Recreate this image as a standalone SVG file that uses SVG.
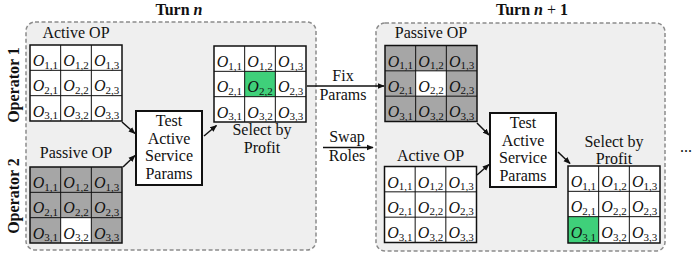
<svg xmlns="http://www.w3.org/2000/svg" width="699" height="256" viewBox="0 0 699 256">
<defs>
<style>
text{font-family:"Liberation Serif","Times New Roman",serif;fill:#111;}
.lb{font-size:16px;text-anchor:middle;}
.tt{font-size:16px;font-weight:bold;text-anchor:middle;}
.c{font-size:16px;text-anchor:middle;}
.o{font-style:italic;}
.s{font-size:11px;}
.turn{fill:#efefef;stroke:#8c8c8c;stroke-width:1.5;stroke-dasharray:4 2.5;}
.bg{fill:#fff;}
.gr{fill:#a6a6a6;}
.gn{fill:#3fd07a;}
.out{fill:none;stroke:#111;stroke-width:1.5;}
.in{stroke:#111;stroke-width:1;}
.box{fill:#fff;stroke:#111;stroke-width:2;}
.ar{stroke:#111;stroke-width:1.5;fill:none;marker-end:url(#ah);}
</style>
<marker id="ah" viewBox="0 0 10 10" refX="9" refY="5" markerWidth="7" markerHeight="7" orient="auto" markerUnits="userSpaceOnUse"><path d="M0,1 L10,5 L0,9 z" fill="#111"/></marker>
</defs>

<g id="turns">
<rect class="turn" x="26" y="22" width="290" height="228" rx="9"/>
<rect class="turn" x="376" y="23" width="289" height="228" rx="9"/>
<text class="tt" x="179" y="15">Turn <tspan font-style="italic">n</tspan></text>
<text class="tt" x="532" y="15">Turn <tspan font-style="italic">n</tspan><tspan font-weight="normal"> + </tspan>1</text>
<text class="tt" transform="translate(19,85) rotate(-90)">Operator 1</text>
<text class="tt" transform="translate(19,196) rotate(-90)">Operator 2</text>
</g>

<g id="grid1" transform="translate(30,45)">
<text class="lb" x="46" y="-7">Active OP</text>
<rect class="bg" width="92" height="76"/>
<path class="in" d="M30.67,0V76M61.33,0V76M0,25.33H92M0,50.67H92"/>
<rect class="out" width="92" height="76"/>
<text class="c" x="15.33" y="21"><tspan class="o">O</tspan><tspan class="s" dy="2.5">1,1</tspan></text>
<text class="c" x="46" y="21"><tspan class="o">O</tspan><tspan class="s" dy="2.5">1,2</tspan></text>
<text class="c" x="76.67" y="21"><tspan class="o">O</tspan><tspan class="s" dy="2.5">1,3</tspan></text>
<text class="c" x="15.33" y="46.3"><tspan class="o">O</tspan><tspan class="s" dy="2.5">2,1</tspan></text>
<text class="c" x="46" y="46.3"><tspan class="o">O</tspan><tspan class="s" dy="2.5">2,2</tspan></text>
<text class="c" x="76.67" y="46.3"><tspan class="o">O</tspan><tspan class="s" dy="2.5">2,3</tspan></text>
<text class="c" x="15.33" y="71.6"><tspan class="o">O</tspan><tspan class="s" dy="2.5">3,1</tspan></text>
<text class="c" x="46" y="71.6"><tspan class="o">O</tspan><tspan class="s" dy="2.5">3,2</tspan></text>
<text class="c" x="76.67" y="71.6"><tspan class="o">O</tspan><tspan class="s" dy="2.5">3,3</tspan></text>
</g>

<g id="grid2" transform="translate(30,167)">
<text class="lb" x="46" y="-9">Passive OP</text>
<rect class="gr" width="92" height="76"/>
<rect class="bg" x="30.67" y="50.67" width="30.67" height="25.33"/>
<path class="in" d="M30.67,0V76M61.33,0V76M0,25.33H92M0,50.67H92"/>
<rect class="out" width="92" height="76"/>
<text class="c" x="15.33" y="21"><tspan class="o">O</tspan><tspan class="s" dy="2.5">1,1</tspan></text>
<text class="c" x="46" y="21"><tspan class="o">O</tspan><tspan class="s" dy="2.5">1,2</tspan></text>
<text class="c" x="76.67" y="21"><tspan class="o">O</tspan><tspan class="s" dy="2.5">1,3</tspan></text>
<text class="c" x="15.33" y="46.3"><tspan class="o">O</tspan><tspan class="s" dy="2.5">2,1</tspan></text>
<text class="c" x="46" y="46.3"><tspan class="o">O</tspan><tspan class="s" dy="2.5">2,2</tspan></text>
<text class="c" x="76.67" y="46.3"><tspan class="o">O</tspan><tspan class="s" dy="2.5">2,3</tspan></text>
<text class="c" x="15.33" y="71.6"><tspan class="o">O</tspan><tspan class="s" dy="2.5">3,1</tspan></text>
<text class="c" x="46" y="71.6"><tspan class="o">O</tspan><tspan class="s" dy="2.5">3,2</tspan></text>
<text class="c" x="76.67" y="71.6"><tspan class="o">O</tspan><tspan class="s" dy="2.5">3,3</tspan></text>
</g>

<g id="test1">
<rect class="box" x="136" y="111" width="66" height="74"/>
<text class="lb" x="169" y="126">Test</text>
<text class="lb" x="169" y="143.5">Active</text>
<text class="lb" x="169" y="161">Service</text>
<text class="lb" x="169" y="179">Params</text>
</g>

<g id="grid3" transform="translate(214,46)">
<rect class="bg" width="92" height="76"/>
<rect class="gn" x="30.67" y="25.33" width="30.67" height="25.33"/>
<path class="in" d="M30.67,0V76M61.33,0V76M0,25.33H92M0,50.67H92"/>
<rect class="out" width="92" height="76"/>
<text class="c" x="15.33" y="21"><tspan class="o">O</tspan><tspan class="s" dy="2.5">1,1</tspan></text>
<text class="c" x="46" y="21"><tspan class="o">O</tspan><tspan class="s" dy="2.5">1,2</tspan></text>
<text class="c" x="76.67" y="21"><tspan class="o">O</tspan><tspan class="s" dy="2.5">1,3</tspan></text>
<text class="c" x="15.33" y="46.3"><tspan class="o">O</tspan><tspan class="s" dy="2.5">2,1</tspan></text>
<text class="c" x="46" y="46.3"><tspan class="o">O</tspan><tspan class="s" dy="2.5">2,2</tspan></text>
<text class="c" x="76.67" y="46.3"><tspan class="o">O</tspan><tspan class="s" dy="2.5">2,3</tspan></text>
<text class="c" x="15.33" y="71.6"><tspan class="o">O</tspan><tspan class="s" dy="2.5">3,1</tspan></text>
<text class="c" x="46" y="71.6"><tspan class="o">O</tspan><tspan class="s" dy="2.5">3,2</tspan></text>
<text class="c" x="76.67" y="71.6"><tspan class="o">O</tspan><tspan class="s" dy="2.5">3,3</tspan></text>
<text class="lb" x="48" y="89">Select by</text>
<text class="lb" x="48" y="106.5">Profit</text>
</g>

<g id="grid4" transform="translate(385,45.5)">
<text class="lb" x="46" y="-7.5">Passive OP</text>
<rect class="gr" width="92" height="76"/>
<rect class="bg" x="30.67" y="25.33" width="30.67" height="25.33"/>
<path class="in" d="M30.67,0V76M61.33,0V76M0,25.33H92M0,50.67H92"/>
<rect class="out" width="92" height="76"/>
<text class="c" x="15.33" y="21"><tspan class="o">O</tspan><tspan class="s" dy="2.5">1,1</tspan></text>
<text class="c" x="46" y="21"><tspan class="o">O</tspan><tspan class="s" dy="2.5">1,2</tspan></text>
<text class="c" x="76.67" y="21"><tspan class="o">O</tspan><tspan class="s" dy="2.5">1,3</tspan></text>
<text class="c" x="15.33" y="46.3"><tspan class="o">O</tspan><tspan class="s" dy="2.5">2,1</tspan></text>
<text class="c" x="46" y="46.3"><tspan class="o">O</tspan><tspan class="s" dy="2.5">2,2</tspan></text>
<text class="c" x="76.67" y="46.3"><tspan class="o">O</tspan><tspan class="s" dy="2.5">2,3</tspan></text>
<text class="c" x="15.33" y="71.6"><tspan class="o">O</tspan><tspan class="s" dy="2.5">3,1</tspan></text>
<text class="c" x="46" y="71.6"><tspan class="o">O</tspan><tspan class="s" dy="2.5">3,2</tspan></text>
<text class="c" x="76.67" y="71.6"><tspan class="o">O</tspan><tspan class="s" dy="2.5">3,3</tspan></text>
</g>

<g id="grid5" transform="translate(384.5,166.5)">
<text class="lb" x="46" y="-6">Active OP</text>
<rect class="bg" width="92" height="76"/>
<path class="in" d="M30.67,0V76M61.33,0V76M0,25.33H92M0,50.67H92"/>
<rect class="out" width="92" height="76"/>
<text class="c" x="15.33" y="21"><tspan class="o">O</tspan><tspan class="s" dy="2.5">1,1</tspan></text>
<text class="c" x="46" y="21"><tspan class="o">O</tspan><tspan class="s" dy="2.5">1,2</tspan></text>
<text class="c" x="76.67" y="21"><tspan class="o">O</tspan><tspan class="s" dy="2.5">1,3</tspan></text>
<text class="c" x="15.33" y="46.3"><tspan class="o">O</tspan><tspan class="s" dy="2.5">2,1</tspan></text>
<text class="c" x="46" y="46.3"><tspan class="o">O</tspan><tspan class="s" dy="2.5">2,2</tspan></text>
<text class="c" x="76.67" y="46.3"><tspan class="o">O</tspan><tspan class="s" dy="2.5">2,3</tspan></text>
<text class="c" x="15.33" y="71.6"><tspan class="o">O</tspan><tspan class="s" dy="2.5">3,1</tspan></text>
<text class="c" x="46" y="71.6"><tspan class="o">O</tspan><tspan class="s" dy="2.5">3,2</tspan></text>
<text class="c" x="76.67" y="71.6"><tspan class="o">O</tspan><tspan class="s" dy="2.5">3,3</tspan></text>
</g>

<g id="test2">
<rect class="box" x="490" y="113" width="66" height="74"/>
<text class="lb" x="523" y="127.5">Test</text>
<text class="lb" x="523" y="145.5">Active</text>
<text class="lb" x="523" y="163">Service</text>
<text class="lb" x="523" y="181">Params</text>
</g>

<g id="grid6" transform="translate(568,166)">
<text class="lb" x="46" y="-19">Select by</text>
<text class="lb" x="46" y="-2.5">Profit</text>
<rect class="bg" width="92" height="77"/>
<rect class="gn" x="0" y="50.67" width="30.67" height="26.33"/>
<path class="in" d="M30.67,0V77M61.33,0V77M0,25.33H92M0,50.67H92"/>
<rect class="out" width="92" height="77"/>
<text class="c" x="15.33" y="21"><tspan class="o">O</tspan><tspan class="s" dy="2.5">1,1</tspan></text>
<text class="c" x="46" y="21"><tspan class="o">O</tspan><tspan class="s" dy="2.5">1,2</tspan></text>
<text class="c" x="76.67" y="21"><tspan class="o">O</tspan><tspan class="s" dy="2.5">1,3</tspan></text>
<text class="c" x="15.33" y="46.3"><tspan class="o">O</tspan><tspan class="s" dy="2.5">2,1</tspan></text>
<text class="c" x="46" y="46.3"><tspan class="o">O</tspan><tspan class="s" dy="2.5">2,2</tspan></text>
<text class="c" x="76.67" y="46.3"><tspan class="o">O</tspan><tspan class="s" dy="2.5">2,3</tspan></text>
<text class="c" x="15.33" y="72"><tspan class="o">O</tspan><tspan class="s" dy="2.5">3,1</tspan></text>
<text class="c" x="46" y="72"><tspan class="o">O</tspan><tspan class="s" dy="2.5">3,2</tspan></text>
<text class="c" x="76.67" y="72"><tspan class="o">O</tspan><tspan class="s" dy="2.5">3,3</tspan></text>
</g>

<g id="connectors">
<line class="ar" x1="122" y1="122" x2="135" y2="133.5"/>
<line class="ar" x1="123" y1="167" x2="135" y2="155.5"/>
<line class="ar" x1="204" y1="136" x2="216.5" y2="125.5"/>
<line class="ar" x1="307" y1="86" x2="384" y2="86"/>
<line class="ar" x1="323" y1="147.5" x2="373" y2="147.5"/>
<line class="ar" x1="477" y1="123" x2="489" y2="135"/>
<line class="ar" x1="477" y1="175" x2="489" y2="164.5"/>
<line class="ar" x1="558" y1="152" x2="570" y2="163.5"/>
<text class="lb" x="343" y="81">Fix</text>
<text class="lb" x="343" y="99.5">Params</text>
<text class="lb" x="347" y="142">Swap</text>
<text class="lb" x="347" y="160.5">Roles</text>
<text class="lb" x="686" y="152">...</text>
</g>
</svg>
